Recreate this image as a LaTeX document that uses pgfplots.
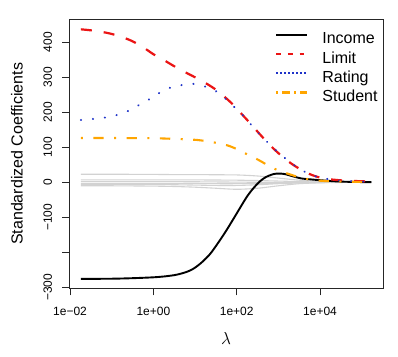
\documentclass[border=0pt]{standalone}
\usepackage{fontspec}
\setmainfont{Liberation Sans}
\usepackage{pgfplots}
\pgfplotsset{compat=1.18}
\definecolor{rred}{RGB}{235,20,20}
\definecolor{rblue}{RGB}{30,50,200}
\definecolor{rorange}{RGB}{255,165,0}
\definecolor{lgrey}{RGB}{210,210,210}
\begin{document}
\begin{tikzpicture}
\begin{axis}[name=ax,
  scale only axis, width=313.7pt, height=269pt,
  xmin=-2.017, xmax=5.51, ymin=-302.9, ymax=465.7,
  axis line style={line width=0.7pt, black!85},
  tick style={line width=0.7pt, black!85},
  tick align=outside, major tick length=7pt,
  xtick pos=bottom, ytick pos=left,
  xtick={-2,0,2,4}, xticklabels={1e−02,1e+00,1e+02,1e+04},
  ytick={-300,-200,...,400}, yticklabels={−300,,−100,0,100,200,300,400},
  ticklabel style={font=\fontsize{12}{12}\selectfont, inner sep=0pt},
  xticklabel style={anchor=north},
  yticklabel style={rotate=90, anchor=south},
  xticklabel shift=12pt, yticklabel shift=10pt,
  xlabel={$\lambda$}, ylabel={Standardized Coefficients},
  xlabel style={at={([yshift=-50pt]rel axis cs:0.5,0)}, anchor=center, font=\fontsize{16}{16}\selectfont},
  ylabel style={at={([xshift=-46.3pt]rel axis cs:0,0.5)}, rotate=0, anchor=south, inner sep=0pt, font=\fontsize{16}{16}\selectfont},
  legend style={at={(rel axis cs:0.6557,0.9539)}, anchor=north west, draw=none, fill=none,
    font=\fontsize{16}{16}\selectfont, row sep=3.8pt, inner sep=0pt,
    nodes={inner sep=0pt, text height=12pt, text depth=3.5pt},
    /tikz/every odd column/.append style={column sep=14.3pt}},
  legend cell align=left,
  legend image code/.code={\draw[#1] (0pt,5pt) -- (30.7pt,5pt);},
  every axis plot/.append style={smooth, tension=0.5},
]
% legend entries
\addlegendimage{black, line width=2pt}
\addlegendentry{Income}
\addlegendimage{rred, line width=2.2pt, dash pattern=on 4.7pt off 7pt}
\addlegendentry{Limit}
\addlegendimage{rblue, line width=1.6pt, dash pattern=on 1.4pt off 2.6pt}
\addlegendentry{Rating}
\addlegendimage{rorange, line width=2.2pt, dash pattern=on 1.8pt off 4pt on 8pt off 4pt}
\addlegendentry{Student}
% grey coefficients
\addplot[lgrey, line width=1.1pt, forget plot] coordinates {(-1.74,23) (-1,23) (0,22.5) (0.5,22) (1,22) (1.5,21.5) (2,21) (2.5,18) (3,12) (3.5,6) (4,2.5) (4.5,1) (5.23,0.3)};
\addplot[lgrey, line width=1.1pt, forget plot] coordinates {(-1.74,7) (-1,7) (0,7) (0.5,7) (1,6.8) (1.5,6.5) (2,6) (2.5,5) (3,3.5) (3.5,2) (4,0.8) (4.5,0.3) (5.23,0.1)};
\addplot[lgrey, line width=1.1pt, forget plot] coordinates {(-1.74,2) (-1,2) (0,2) (0.5,1.8) (1,1.5) (1.5,1) (2,0.5) (2.5,0) (3,-0.5) (3.5,-0.3) (4,-0.1) (4.5,0) (5.23,0)};
\addplot[lgrey, line width=1.1pt, forget plot] coordinates {(-1.74,-3) (-1,-3) (0,-3) (0.5,-3) (1,-3.5) (1.5,-4) (2,-4) (2.5,-3.5) (3,-2.5) (3.5,-1.5) (4,-0.5) (4.5,-0.2) (5.23,0)};
\addplot[lgrey, line width=1.1pt, forget plot] coordinates {(-1.74,-6) (-1,-6) (0,-6.5) (0.5,-7) (1,-8) (1.5,-9) (2,-9) (2.5,-7) (3,-4) (3.5,-2) (4,-0.7) (4.5,-0.2) (5.23,0)};
\addplot[lgrey, line width=1.1pt, forget plot] coordinates {(-1.74,-10) (-1,-10) (0,-11) (0.5,-12) (1,-14) (1.5,-17) (2,-20) (2.5,-17) (3,-10) (3.5,-4) (4,-1.5) (4.5,-0.5) (5.23,-0.1)};
% Income
\addplot[black, line width=1.9pt, forget plot] coordinates {(-1.74,-276) (-1,-275.5) (-0.5,-274) (0,-271.5) (0.3,-268.5) (0.56,-264) (0.8,-256) (0.96,-247) (1.15,-230) (1.36,-205) (1.56,-172) (1.76,-136) (2.0,-89) (2.24,-42) (2.4,-17) (2.55,2) (2.7,15) (2.87,23) (3.0,25) (3.15,23.5) (3.35,17) (3.55,11) (3.8,8) (4.0,6) (4.4,2.5) (4.8,1) (5.23,0.3)};
% Limit
\addplot[rred, line width=2.2pt, dash pattern=on 11pt off 12pt, forget plot] coordinates {(-1.74,437) (-1.56,435) (-1.3,431) (-1.04,425) (-0.78,416) (-0.52,404) (-0.26,387) (0,366) (0.24,350) (0.48,333) (0.74,316) (1.0,300) (1.26,283) (1.52,263) (1.72,243) (1.92,221) (2.12,195) (2.32,169) (2.52,142) (2.72,116) (2.92,92) (3.12,71) (3.34,51) (3.56,35) (3.8,21) (4.08,11) (4.36,7) (4.64,4.6) (5.23,2)};
% Rating
\addplot[rblue, line width=2pt, line cap=round, dash pattern=on 0.3pt off 11.7pt, forget plot] coordinates {(-1.74,178) (-1.44,181) (-1.16,185) (-0.88,192) (-0.6,204) (-0.34,221) (-0.1,237) (0.14,255) (0.4,270) (0.69,278) (0.96,281) (1.26,273) (1.52,259) (1.74,238) (1.95,214) (2.16,190) (2.35,164) (2.54,138) (2.75,113) (2.96,89) (3.18,67) (3.4,47) (3.65,29) (3.92,16) (4.2,9) (4.48,4.6) (4.8,3) (5.23,1.5)};
% Student
\addplot[rorange, line width=2.1pt, dash pattern=on 2pt off 10.5pt on 10.3pt off 10.5pt, forget plot] coordinates {(-1.74,126.6) (-1,126.5) (-0.5,126.3) (0,126) (0.5,124) (1.04,121) (1.4,115) (1.76,106) (2.0,95) (2.2,83) (2.52,64) (2.88,40) (3.24,24) (3.6,11.4) (4.0,4.6) (4.5,2) (5.23,0.8)};
\end{axis}
\path ([xshift=-69.3pt,yshift=-67.7pt]ax.south west) rectangle ([xshift=15pt,yshift=19.3pt]ax.north east);
\end{tikzpicture}
\end{document}
